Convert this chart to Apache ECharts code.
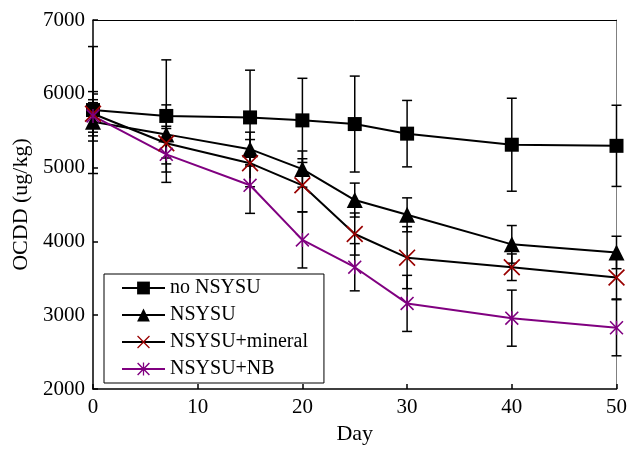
<!DOCTYPE html>
<html>
<head>
<meta charset="utf-8">
<script src="https://cdn.jsdelivr.net/npm/echarts@6/dist/echarts.min.js"></script>
<style>
html,body{margin:0;padding:0;background:#fff;}
#chart{width:630px;height:450px;}
</style>
</head>
<body>
<div id="chart"></div>
<script>
// ---- data ----
const days = [0, 7, 15, 20, 25, 30, 40, 50];
const noNSYSU = [5780, 5700, 5680, 5640, 5590, 5460, 5310, 5295];
const noNSYSUErr = [860, 760, 640, 570, 650, 450, 630, 550];
const nsysu = [5620, 5450, 5250, 4980, 4560, 4360, 3960, 3850];
const nsysuErr = [260, 400, 230, 245, 230, 230, 255, 220];
const mineral = [5730, 5330, 5060, 4760, 4100, 3780, 3650, 3510];
const mineralErr = [300, 200, 320, 360, 285, 420, 180, 290];
const nb = [5700, 5180, 4760, 4020, 3650, 3160, 2960, 2830];
const nbErr = [220, 380, 380, 380, 320, 380, 380, 380];
const seriesNames = ['no NSYSU', 'NSYSU', 'NSYSU+mineral', 'NSYSU+NB'];
const yTicks = [2000, 3000, 4000, 5000, 6000, 7000];
const xTicks = [0, 10, 20, 30, 40, 50];

const FONT = "'Liberation Serif','Times New Roman',serif";
const xPath = 'path://M0,7 L7,0 L50,43 L93,0 L100,7 L57,50 L100,93 L93,100 L50,57 L7,100 L0,93 L43,50 Z';
const starPath = 'path://M0,8 L8,0 L50,42 L92,0 L100,8 L58,50 L100,92 L92,100 L50,58 L8,100 L0,92 L42,50 Z M45,0 L55,0 L55,100 L45,100 Z';

function pairs(vals) { return days.map((d, i) => [d, vals[i]]); }
function errData(vals, errs) { return days.map((d, i) => [d, vals[i] - errs[i], vals[i] + errs[i]]); }

function renderErr(params, api) {
  const x = api.value(0), lo = api.value(1), hi = api.value(2);
  const a = api.coord([x, lo]), b = api.coord([x, hi]);
  const w = 5;
  const st = { stroke: '#000', lineWidth: 1.5 };
  return {
    type: 'group',
    children: [
      { type: 'line', shape: { x1: a[0], y1: a[1], x2: b[0], y2: b[1] }, style: st },
      { type: 'line', shape: { x1: a[0] - w, y1: a[1], x2: a[0] + w, y2: a[1] }, style: st },
      { type: 'line', shape: { x1: b[0] - w, y1: b[1], x2: b[0] + w, y2: b[1] }, style: st }
    ]
  };
}

const chart = echarts.init(document.getElementById('chart'), null, { renderer: 'canvas' });

const errSeries = [
  [noNSYSU, noNSYSUErr], [nsysu, nsysuErr], [mineral, mineralErr], [nb, nbErr]
].map(([v, e]) => ({
  type: 'custom', renderItem: renderErr, data: errData(v, e), z: 1,
  encode: { x: 0, y: [1, 2] }, silent: true, clip: false
}));

const option = {
  backgroundColor: '#fff',
  animation: false,
  grid: { left: 93, right: 11, top: 20, bottom: 59, containLabel: false },
  legend: {
    data: seriesNames,
    orient: 'vertical',
    left: 104, top: 274,
    width: 220,
    padding: [4, 16, 4, 17],
    itemWidth: 43, itemHeight: 16, itemGap: 7,
    backgroundColor: '#fff',
    borderColor: '#000', borderWidth: 1,
    textStyle: { fontFamily: FONT, fontSize: 20, color: '#000', lineHeight: 20 }
  },
  xAxis: [{
    type: 'value', min: 0, max: 50, interval: 10,
    name: 'Day', nameLocation: 'middle', nameGap: 34,
    nameTextStyle: { fontFamily: FONT, fontSize: 22, color: '#000' },
    axisLine: { show: true, onZero: false, lineStyle: { color: '#000', width: 1.5 } },
    axisTick: { show: true, inside: true, length: 5, lineStyle: { color: '#000', width: 1.5 } },
    axisLabel: { fontFamily: FONT, fontSize: 21, color: '#000', margin: 8 },
    splitLine: { show: false }
  }, {
    type: 'value', min: 0, max: 50, position: 'top',
    axisLine: { show: true, onZero: false, lineStyle: { color: '#000', width: 1 } },
    axisTick: { show: false }, axisLabel: { show: false }, splitLine: { show: false }
  }],
  yAxis: [{
    type: 'value', min: 2000, max: 7000, interval: 1000,
    name: 'OCDD (ug/kg)', nameLocation: 'middle', nameGap: 60,
    nameTextStyle: { fontFamily: FONT, fontSize: 22, color: '#000' },
    axisLine: { show: true, onZero: false, lineStyle: { color: '#000', width: 1.5 } },
    axisTick: { show: true, inside: true, length: 5, lineStyle: { color: '#000', width: 1.5 } },
    axisLabel: { fontFamily: FONT, fontSize: 21, color: '#000', margin: 8,
      formatter: v => yTicks.includes(v) ? String(v) : '' },
    splitLine: { show: false }
  }, {
    type: 'value', min: 2000, max: 7000, position: 'right',
    axisLine: { show: true, onZero: false, lineStyle: { color: '#808080', width: 1 } },
    axisTick: { show: false }, axisLabel: { show: false }, splitLine: { show: false }
  }],
  series: [
    ...errSeries,
    {
      name: seriesNames[0], type: 'line', data: pairs(noNSYSU), z: 3,
      symbol: 'rect', symbolSize: 14,
      lineStyle: { color: '#000', width: 2 }, itemStyle: { color: '#000' }
    },
    {
      name: seriesNames[1], type: 'line', data: pairs(nsysu), z: 3,
      symbol: 'triangle', symbolSize: 16,
      lineStyle: { color: '#000', width: 2 }, itemStyle: { color: '#000' }
    },
    {
      name: seriesNames[2], type: 'line', data: pairs(mineral), z: 3,
      symbol: xPath, symbolSize: 17,
      lineStyle: { color: '#000', width: 2 }, itemStyle: { color: '#990000' }
    },
    {
      name: seriesNames[3], type: 'line', data: pairs(nb), z: 3,
      symbol: starPath, symbolSize: 14,
      lineStyle: { color: '#800080', width: 2 }, itemStyle: { color: '#800080' }
    }
  ]
};
chart.setOption(option);
</script>
</body>
</html>
